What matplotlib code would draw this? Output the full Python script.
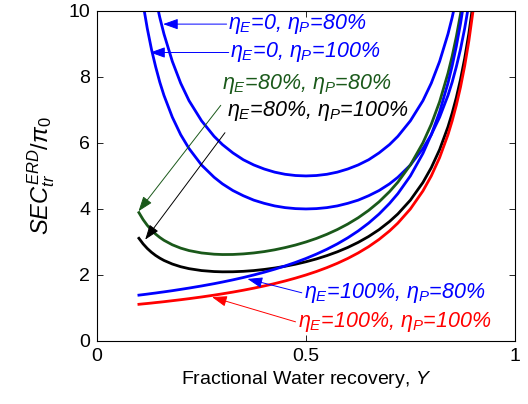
import matplotlib
matplotlib.use("Agg")
import matplotlib.pyplot as plt

plt.rcParams['font.family'] = ['Liberation Sans', 'DejaVu Sans']
plt.rcParams['mathtext.fontset'] = 'custom'
plt.rcParams['mathtext.rm'] = 'Liberation Sans'
plt.rcParams['mathtext.it'] = 'Liberation Sans:italic'

# recovery values shared by all curves
Y = [0.10, 0.11, 0.12, 0.13, 0.14, 0.15, 0.16, 0.18, 0.20, 0.22, 0.25, 0.28,
     0.30, 0.325, 0.35, 0.375, 0.40, 0.425, 0.45, 0.475, 0.50, 0.525, 0.55,
     0.575, 0.60, 0.625, 0.65, 0.675, 0.70, 0.72, 0.75, 0.78, 0.80, 0.82,
     0.84, 0.85, 0.86, 0.87, 0.88, 0.89, 0.90, 0.91]

# eta_E = 0, eta_P = 80%
sec_e0_p80 = [13.89, 12.77, 11.84, 11.05, 10.38, 9.80, 9.30, 8.47, 7.81, 7.28,
              6.67, 6.20, 5.95, 5.698, 5.49, 5.333, 5.21, 5.115, 5.05, 5.013,
              5.00, 5.013, 5.05, 5.115, 5.21, 5.333, 5.49, 5.698, 5.95,
              6.20, 6.67, 7.28, 7.81, 8.47, 9.30, 9.80, 10.38, 11.05, 11.84,
              12.77, 13.89, 15.26]
# eta_E = 0, eta_P = 100%
sec_e0_p100 = [11.11, 10.21, 9.47, 8.84, 8.31, 7.84, 7.44, 6.78, 6.25, 5.83,
               5.33, 4.96, 4.76, 4.558, 4.40, 4.267, 4.17, 4.092, 4.04, 4.010,
               4.00, 4.010, 4.04, 4.092, 4.17, 4.267, 4.40, 4.558, 4.76,
               4.96, 5.33, 5.83, 6.25, 6.78, 7.44, 7.84, 8.31, 8.84, 9.47,
               10.21, 11.11, 12.21]
# eta_E = 80%, eta_P = 80%
sec_e80_p80 = [3.889, 3.678, 3.504, 3.360, 3.239, 3.137, 3.050, 2.914, 2.813,
               2.739, 2.667, 2.629, 2.619, 2.621, 2.638, 2.667, 2.708, 2.762,
               2.829, 2.907, 3.000, 3.107, 3.232, 3.376, 3.542, 3.733, 3.956,
               4.216, 4.524, 4.811, 5.333, 6.003, 6.563, 7.249, 8.110,
               8.627, 9.219, 9.902, 10.70, 11.65, 12.78, 14.16]
# eta_E = 80%, eta_P = 100%
sec_e80_p100 = [3.111, 2.942, 2.803, 2.688, 2.591, 2.510, 2.440, 2.331, 2.250,
                2.191, 2.133, 2.103, 2.095, 2.097, 2.110, 2.133, 2.167, 2.210,
                2.263, 2.326, 2.400, 2.486, 2.586, 2.701, 2.833, 2.987, 3.165,
                3.373, 3.619, 3.849, 4.267, 4.802, 5.250, 5.799, 6.488,
                6.902, 7.375, 7.922, 8.561, 9.316, 10.22, 11.33]
# eta_E = 100%, eta_P = 80%
sec_e100_p80 = [1.389, 1.404, 1.420, 1.437, 1.453, 1.471, 1.488, 1.524, 1.563,
                1.603, 1.667, 1.736, 1.786, 1.852, 1.923, 2.000, 2.083, 2.174,
                2.273, 2.381, 2.500, 2.632, 2.778, 2.941, 3.125, 3.333, 3.571,
                3.846, 4.167, 4.464, 5.000, 5.682, 6.250, 6.944, 7.813,
                8.333, 8.929, 9.615, 10.42, 11.36, 12.50, 13.89]
# eta_E = 100%, eta_P = 100%
sec_e100_p100 = [1.111, 1.124, 1.136, 1.149, 1.163, 1.176, 1.190, 1.220, 1.250,
                 1.282, 1.333, 1.389, 1.429, 1.481, 1.538, 1.600, 1.667, 1.739,
                 1.818, 1.905, 2.000, 2.105, 2.222, 2.353, 2.500, 2.667, 2.857,
                 3.077, 3.333, 3.571, 4.000, 4.545, 5.000, 5.556, 6.250,
                 6.667, 7.143, 7.692, 8.333, 9.091, 10.00, 11.11]

blue = (0, 0, 1)
green = (0.1, 0.35, 0.1)
black = (0, 0, 0)
red = (1, 0, 0)

fig = plt.figure(figsize=(5.28, 4.04), dpi=100)
ax = fig.add_axes([0.184, 0.156, 0.791, 0.817])

lw = 2.0
ax.plot(Y, sec_e0_p80, color=blue, lw=lw)
ax.plot(Y, sec_e0_p100, color=blue, lw=lw)
ax.plot(Y, sec_e80_p80, color=green, lw=lw)
ax.plot(Y, sec_e80_p100, color=black, lw=lw)
ax.plot(Y, sec_e100_p80, color=blue, lw=lw)
ax.plot(Y, sec_e100_p100, color=red, lw=lw)

ax.set_xlim(0, 1)
ax.set_ylim(0, 10)
ax.set_xticks([0, 0.5, 1])
ax.set_xticklabels(['0', '0.5', '1'])
ax.set_yticks([0, 2, 4, 6, 8, 10])
ax.tick_params(direction='in', top=True, right=True, length=4, labelsize=14,
               width=0.6, pad=5)
for s in ax.spines.values():
    s.set_linewidth(0.8)

ax.set_xlabel('Fractional Water recovery, $Y$', fontsize=14, labelpad=3)
ax.set_ylabel(r'$SEC_{tr}^{ERD}/\pi_0$', fontsize=17, labelpad=8)

# labels with arrows pointing at each curve
notes = [
    (r'$\eta_E$=0, $\eta_P$=80%', blue, (0.158, 9.60), (0.31, 9.60)),
    (r'$\eta_E$=0, $\eta_P$=100%', blue, (0.127, 8.74), (0.315, 8.74)),
    (r'$\eta_E$=80%, $\eta_P$=80%', green, (0.099, 3.93), (0.296, 7.14)),
    (r'$\eta_E$=80%, $\eta_P$=100%', black, (0.115, 3.07), (0.306, 6.31)),
    (r'$\eta_E$=100%, $\eta_P$=80%', blue, (0.36, 1.88), (0.49, 1.46)),
    (r'$\eta_E$=100%, $\eta_P$=100%', red, (0.275, 1.33), (0.475, 0.58)),
]
text_pos = [(0.313, 9.60), (0.318, 8.74), (0.300, 7.80), (0.312, 6.98),
            (0.495, 1.46), (0.480, 0.58)]

for (label, c, tip, tail), (tx, ty) in zip(notes, text_pos):
    ax.annotate('', xy=tip, xytext=tail,
                arrowprops=dict(arrowstyle='-|>,head_length=0.7,head_width=0.25',
                                color=c, lw=0.7, shrinkA=0, shrinkB=0,
                                mutation_scale=13))
    ax.text(tx, ty, label, color=c, fontsize=15.5, style='italic',
            ha='left', va='center')

fig.savefig('out.png', dpi=100)
